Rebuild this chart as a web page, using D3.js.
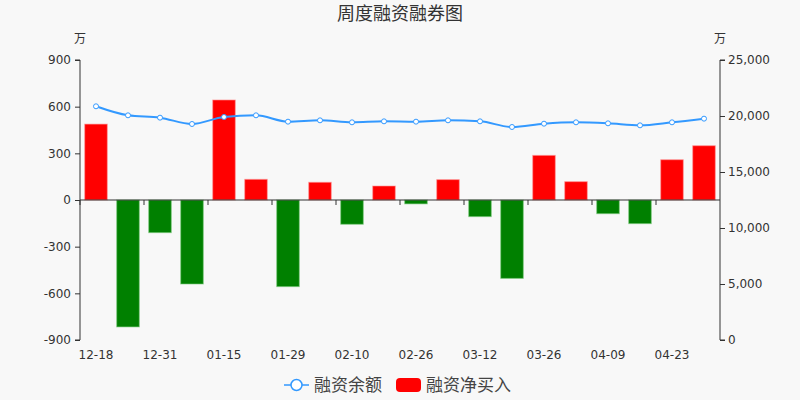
<!DOCTYPE html>
<html>
<head>
<meta charset="utf-8">
<script src="https://cdn.jsdelivr.net/npm/d3@7"></script>
<style>
html,body{margin:0;padding:0;background:#f8f8f8;}
svg{display:block;font-family:"DejaVu Sans","Noto Sans CJK SC",sans-serif;}
</style>
</head>
<body>
<svg id="chart" width="800" height="400"></svg>
<script>
const categories = ["12-18","12-25","12-31","01-08","01-15","01-22","01-29","02-05","02-10","02-19",
                    "02-26","03-05","03-12","03-19","03-26","04-02","04-09","04-16","04-23","04-30"];
const netBuy = [488,-816,-210,-540,643,133,-557,114,-156,90,
                -25,131,-107,-504,287,118,-88,-152,259,349];
const balance = [20866,20060,19851,19286,19911,20060,19494,19613,19435,19524,
                 19494,19613,19524,19018,19315,19435,19345,19167,19435,19762];
const leftTicks = [-900,-600,-300,0,300,600,900];
const rightTicks = [0,5000,10000,15000,20000,25000];
const shownLabels = ["12-18","12-31","01-15","01-29","02-10","02-26","03-12","03-26","04-09","04-23"];
const title = "周度融资融券图";
const unit = "万";
const seriesNames = ["融资余额","融资净买入"];

const svg = d3.select("#chart");
const L = 80, R = 720, T = 60, B = 340;
const textColor = "#333";

const xBand = d3.scaleBand().domain(categories).range([L, R]);
const yL = d3.scaleLinear().domain([-900, 900]).range([B, T]);
const yR = d3.scaleLinear().domain([0, 25000]).range([B, T]);

// title
svg.append("text").attr("x", 400).attr("y", 20).attr("text-anchor", "middle")
  .attr("font-size", 18).attr("fill", textColor).attr("font-family","Noto Sans CJK SC").text(title);

// units
svg.append("text").attr("x", 80).attr("y", 43).attr("text-anchor", "middle")
  .attr("font-size", 12).attr("fill", textColor).attr("font-family","Noto Sans CJK SC").text(unit);
svg.append("text").attr("x", 720).attr("y", 43).attr("text-anchor", "middle")
  .attr("font-size", 12).attr("fill", textColor).attr("font-family","Noto Sans CJK SC").text(unit);

// bars
const bw = 22.6;
svg.append("g").selectAll("rect").data(netBuy).join("rect")
  .attr("x", (d, i) => xBand(categories[i]) + xBand.bandwidth() / 2 - bw / 2)
  .attr("width", bw)
  .attr("y", d => d >= 0 ? yL(d) : yL(0))
  .attr("height", d => Math.abs(yL(d) - yL(0)))
  .attr("fill", d => d >= 0 ? "#ff0000" : "#008000")
  .attr("stroke", d => d >= 0 ? "rgba(255,150,150,0.6)" : "rgba(120,200,120,0.6)")
  .attr("stroke-width", 1);

// left axis
const axL = d3.axisLeft(yL).tickValues(leftTicks).tickSize(5).tickPadding(4).tickFormat(d => String(d));
const gL = svg.append("g").attr("transform", `translate(${L},0)`).call(axL);
gL.select(".domain").attr("stroke", textColor).attr("d", `M-5,${T}H0V${B}H-5`);
gL.selectAll(".tick line").attr("stroke", textColor);
gL.selectAll(".tick text").attr("fill", textColor).attr("font-size", 12).attr("font-family","DejaVu Sans");

// right axis
const axR = d3.axisRight(yR).tickValues(rightTicks).tickSize(5).tickPadding(3).tickFormat(d3.format(","));
const gR = svg.append("g").attr("transform", `translate(${R},0)`).call(axR);
gR.select(".domain").attr("stroke", textColor).attr("d", `M5,${T}H0V${B}H5`);
gR.selectAll(".tick line").attr("stroke", textColor);
gR.selectAll(".tick text").attr("fill", textColor).attr("font-size", 12).attr("font-family","DejaVu Sans");

// x axis at zero
const gX = svg.append("g").attr("transform", `translate(0,${yL(0)})`);
gX.append("line").attr("x1", L).attr("x2", R).attr("y1", 0).attr("y2", 0).attr("stroke", textColor);
const tickCats = categories.filter((c, i) => i % 2 === 0);
gX.selectAll("line.tk").data(tickCats).join("line").attr("class","tk")
  .attr("x1", d => xBand(d)).attr("x2", d => xBand(d)).attr("y1", 0).attr("y2", 5).attr("stroke", textColor);

// x labels at bottom
svg.append("g").selectAll("text").data(shownLabels).join("text")
  .attr("x", d => xBand(d) + xBand.bandwidth() / 2)
  .attr("y", B + 19)
  .attr("text-anchor", "middle").attr("font-size", 12).attr("fill", textColor)
  .attr("font-family","DejaVu Sans")
  .text(d => d);

// line
const lineColor = "#3399ff";
const line = d3.line()
  .x((d, i) => xBand(categories[i]) + xBand.bandwidth() / 2)
  .y(d => yR(d))
  .curve(d3.curveMonotoneX);
svg.append("path").datum(balance).attr("d", line).attr("fill", "none")
  .attr("stroke", lineColor).attr("stroke-width", 2);
svg.append("g").selectAll("circle").data(balance).join("circle")
  .attr("cx", (d, i) => xBand(categories[i]) + xBand.bandwidth() / 2)
  .attr("cy", d => yR(d))
  .attr("r", 2.5).attr("fill", "#fff").attr("stroke", lineColor).attr("stroke-width", 1);

// legend
const lg = svg.append("g");
lg.append("line").attr("x1", 284).attr("x2", 309).attr("y1", 385).attr("y2", 385)
  .attr("stroke", lineColor).attr("stroke-width", 1.5);
lg.append("circle").attr("cx", 296.5).attr("cy", 385).attr("r", 5.5)
  .attr("fill", "#fff").attr("stroke", lineColor).attr("stroke-width", 1.5);
lg.append("text").attr("x", 314).attr("y", 391).attr("font-size", 17).attr("fill", "#444")
  .attr("font-family","Noto Sans CJK SC").text(seriesNames[0]);
lg.append("rect").attr("x", 396).attr("y", 378).attr("width", 25).attr("height", 14).attr("rx", 4)
  .attr("fill", "#ff0000");
lg.append("text").attr("x", 426).attr("y", 391).attr("font-size", 17).attr("fill", "#444")
  .attr("font-family","Noto Sans CJK SC").text(seriesNames[1]);
</script>
</body>
</html>
